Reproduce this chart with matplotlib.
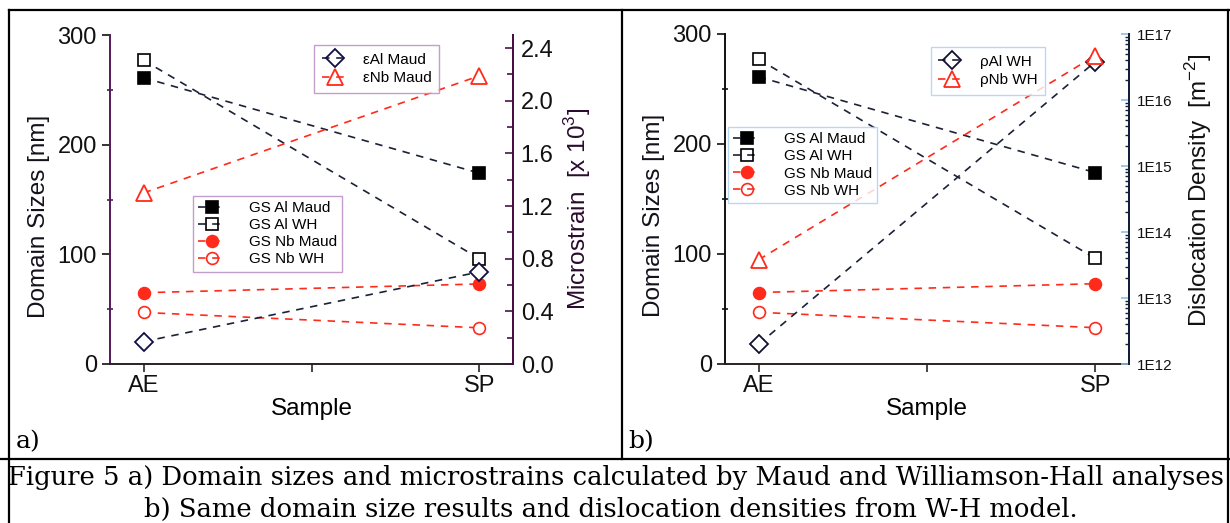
import numpy as np
import matplotlib
matplotlib.use('Agg')
import matplotlib.pyplot as plt
from matplotlib.lines import Line2D
from matplotlib.ticker import FixedLocator, NullFormatter, FuncFormatter, LogLocator

plt.rcParams['font.family'] = ['Liberation Sans', 'DejaVu Sans']
plt.rcParams['mathtext.fontset'] = 'custom'
plt.rcParams['mathtext.rm'] = 'Liberation Sans'

# data
samples = ['AE', 'SP']
xpos = [1, 2]
gs_al_maud = [261, 174]
gs_al_wh = [277, 96]
gs_nb_maud = [65, 73]
gs_nb_wh = [47, 33]
strain_al_maud = [0.17, 0.70]      # x 10^3
strain_nb_maud = [1.30, 2.19]
rho_al_wh = [2.0e12, 3.8e16]       # m^-2
rho_nb_wh = [3.8e13, 4.7e16]

W, H = 1230, 523
navy = '#1b2236'
red = '#ff2a1a'
dash = (4.5, 4.0)

fig = plt.figure(figsize=(W / 100, H / 100), dpi=100)


def fx(px):
    return px / W


def fy(py):
    return 1 - py / H


gs_series = [
    (gs_al_maud, 'GS Al Maud', navy, 's', 'black', 'black', 8),
    (gs_al_wh, 'GS Al WH', navy, 's', 'white', 'black', 8),
    (gs_nb_maud, 'GS Nb Maud', red, 'o', red, red, 8.5),
    (gs_nb_wh, 'GS Nb WH', red, 'o', 'white', red, 8.5),
]


def panel(rect, spine_col, right_col):
    ax = fig.add_axes(rect)
    handles = []
    for vals, lab, c, m, fc, ec, ms in gs_series:
        ax.plot(xpos, vals, ls='--', dashes=dash, lw=1.2, color=c, marker=m,
                mfc=fc, mec=ec, ms=ms, mew=1.2, zorder=3)
        handles.append(Line2D([], [], ls='--', dashes=dash, lw=1.2, color=c, marker=m,
                              mfc=(fc if fc != 'white' else 'none'), mec=ec, ms=ms, mew=1.2))
    ax.set_xlim(0.9, 2.1)
    ax.set_ylim(0, 300)
    ax.set_xticks([1, 1.5, 2])
    ax.set_xticklabels([samples[0], '', samples[1]])
    ax.set_yticks([0, 100, 200, 300])
    ax.yaxis.set_minor_locator(FixedLocator([50, 150, 250]))
    ax.tick_params(axis='both', which='major', direction='out', length=6, width=1.2,
                   labelsize=17, colors='#111111', pad=3.5)
    ax.tick_params(axis='y', which='minor', direction='inout', length=5, width=1.2,
                   colors=spine_col)
    ax.tick_params(axis='x', which='major', colors='#302020', labelcolor='#111111', pad=2)
    ax.spines['top'].set_visible(False)
    ax.spines['left'].set_color(spine_col)
    ax.spines['bottom'].set_color('#2a2020')
    for s in ('left', 'bottom', 'right'):
        ax.spines[s].set_linewidth(1.4)
    ax.set_xlabel('Sample', fontsize=17.5, labelpad=1)
    ax.set_ylabel('Domain Sizes [nm]', fontsize=17.5, labelpad=5, color='#14101c')
    ax.yaxis.label.set_y(0.45)
    tw = ax.twinx()
    tw.spines['top'].set_visible(False)
    tw.spines['left'].set_visible(False)
    tw.spines['bottom'].set_visible(False)
    tw.spines['right'].set_color(right_col)
    tw.spines['right'].set_linewidth(1.4)
    return ax, tw, handles


def add_legends(tw, top_handles, top_labels, top_anchor, low_handles, low_anchor, edge):
    lg1 = tw.legend(top_handles, top_labels, loc='upper left', bbox_to_anchor=top_anchor,
                    borderaxespad=0, fontsize=11, frameon=True, fancybox=False, edgecolor=edge,
                    handlelength=1.8, handletextpad=0.9, labelspacing=0.3, borderpad=0.5)
    lg1.get_frame().set_linewidth(1.0)
    lg1.set_zorder(10)
    lg2 = tw.legend(low_handles, [s[1] for s in gs_series], loc='upper left',
                    bbox_to_anchor=low_anchor, borderaxespad=0, fontsize=11, frameon=True,
                    fancybox=False, edgecolor=edge, handlelength=1.8, handletextpad=1.5,
                    labelspacing=0.2, borderpad=0.35)
    lg2.get_frame().set_linewidth(1.0)
    lg2.set_zorder(10)
    tw.add_artist(lg1)


# ---------- panel a ----------
ax_a, tw_a, h_a = panel([fx(110), fy(364), fx(513) - fx(110), fy(35) - fy(364)],
                        '#55185a', '#4a1048')
tw_a.plot(xpos, strain_al_maud, ls='--', dashes=dash, lw=1.2, color=navy, marker='D',
          mfc='white', mec='#101040', ms=9, mew=1.3, zorder=3)
tw_a.plot(xpos, strain_nb_maud, ls='--', dashes=dash, lw=1.2, color=red, marker='^',
          mfc='white', mec=red, ms=11, mew=1.3, zorder=3)
tw_a.set_ylim(0, 2.5)
tw_a.set_yticks(np.arange(0, 2.41, 0.4))
tw_a.yaxis.set_major_formatter(FuncFormatter(lambda v, p: f'{v:.1f}'))
tw_a.yaxis.set_minor_locator(FixedLocator(np.arange(0.2, 2.41, 0.4)))
tw_a.tick_params(axis='y', which='major', direction='in', length=6, width=1.2,
                 labelsize=17, colors='#4a1048', labelcolor='#111111', pad=5.5)
tw_a.tick_params(axis='y', which='minor', direction='in', length=4, width=1.2, colors='#4a1048')
tw_a.set_ylabel('Microstrain  [x 10$^{3}$]', fontsize=17.5, color='#2a0a2e', labelpad=6)
tw_a.yaxis.label.set_y(0.47)

top_a = [Line2D([], [], ls='--', dashes=dash, lw=1.2, color=navy, marker='D', mfc='none',
                mec='#101040', ms=9, mew=1.3),
         Line2D([], [], ls='--', dashes=dash, lw=1.2, color=red, marker='^', mfc='none',
                mec=red, ms=11, mew=1.3)]
add_legends(tw_a, top_a, ['εAl Maud', 'εNb Maud'], (0.506, 0.97), h_a, (0.206, 0.511), '#b586c0')

# ---------- panel b ----------
ax_b, tw_b, h_b = panel([fx(725), fy(364), fx(1129) - fx(725), fy(34) - fy(364)],
                        '#111111', '#14203a')
tw_b.plot(xpos, rho_al_wh, ls='--', dashes=dash, lw=1.2, color=navy, marker='D',
          mfc='white', mec='#101030', ms=9, mew=1.3, zorder=3)
tw_b.plot(xpos, rho_nb_wh, ls='--', dashes=dash, lw=1.2, color=red, marker='^',
          mfc='white', mec=red, ms=11, mew=1.3, zorder=3)
tw_b.set_yscale('log')
tw_b.set_ylim(1e12, 1e17)
tw_b.yaxis.set_major_locator(LogLocator(base=10, numticks=10))
tw_b.yaxis.set_minor_locator(LogLocator(base=10, subs=np.arange(2, 10), numticks=20))
tw_b.yaxis.set_minor_formatter(NullFormatter())
tw_b.yaxis.set_major_formatter(FuncFormatter(lambda v, p: f'1E{int(round(np.log10(v)))}'))
tw_b.tick_params(axis='y', which='major', direction='in', length=6, width=1.2,
                 labelsize=11, colors='#8cc0e8', labelcolor='#111111', pad=6)
tw_b.tick_params(axis='y', which='minor', direction='in', length=3, width=1.0, colors='#14203a')
tw_b.set_ylabel('Dislocation Density  [m$^{-2}$]', fontsize=17.5, color='#111111', labelpad=7)
tw_b.yaxis.label.set_y(0.526)

top_b = [Line2D([], [], ls='--', dashes=dash, lw=1.2, color=navy, marker='D', mfc='none',
                mec='#101030', ms=9, mew=1.3),
         Line2D([], [], ls='--', dashes=dash, lw=1.2, color=red, marker='^', mfc='none',
                mec=red, ms=11, mew=1.3)]
add_legends(tw_b, top_b, ['ρAl WH', 'ρNb WH'], (0.509, 0.961), h_b, (0.007, 0.718), '#a8d0f0')

# ---------- table frame ----------
for (x0, y0, x1, y1) in [(9, 10, 1230, 10), (9, 10, 9, 523), (622, 10, 622, 459),
                         (0, 459, 1230, 459), (1228, 10, 1228, 523)]:
    fig.add_artist(Line2D([fx(x0), fx(x1)], [fy(y0), fy(y1)], color='black', lw=1.6,
                          transform=fig.transFigure))

fig.text(fx(16), fy(442), 'a)', family='DejaVu Serif', fontsize=18, va='center', ha='left')
fig.text(fx(628), fy(442), 'b)', family='DejaVu Serif', fontsize=18, va='center', ha='left')

line1 = 'Figure 5 a) Domain sizes and microstrains calculated by Maud and Williamson-Hall analyses'
line2 = 'b) Same domain size results and dislocation densities from W-H model.'
t1 = fig.text(fx(616), fy(477), line1, family='DejaVu Serif', fontsize=17, ha='center', va='center')
t2 = fig.text(fx(611), fy(509), line2, family='DejaVu Serif', fontsize=17, ha='center', va='center')
# fit the first caption line to the width seen in the original
fig.canvas.draw()
w1 = t1.get_window_extent().width
fs = 17 * 1217 / w1
t1.set_fontsize(fs)
t2.set_fontsize(fs)

fig.savefig('out.png', dpi=100)
